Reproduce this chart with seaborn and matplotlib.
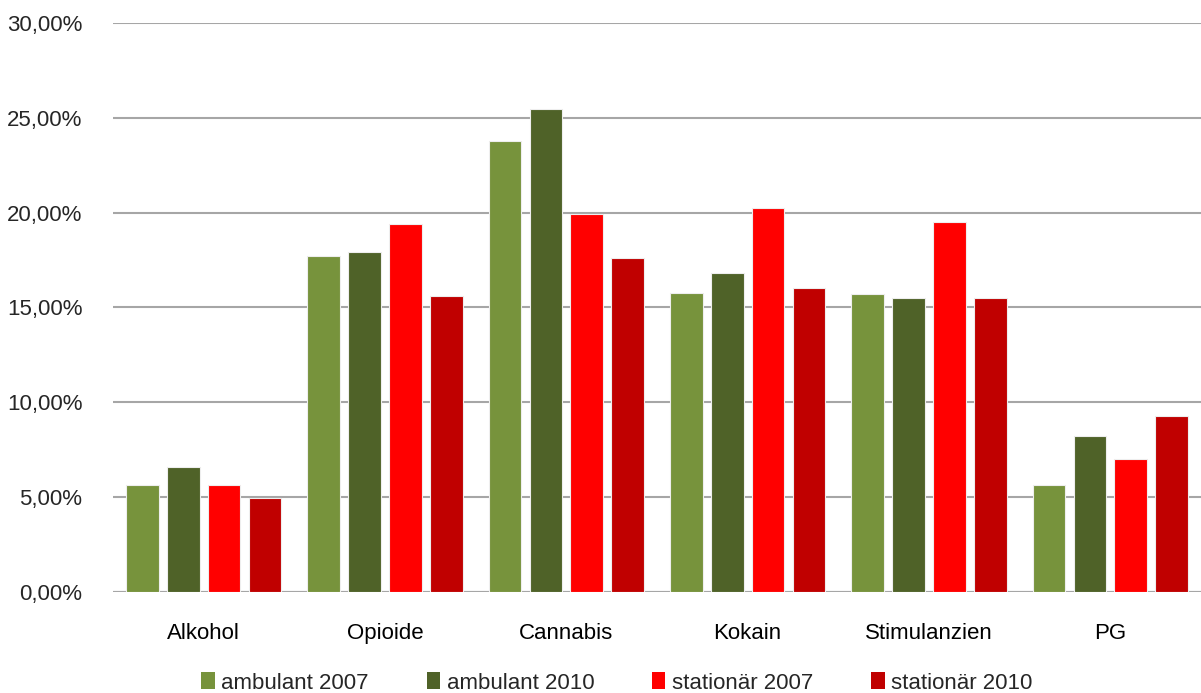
import pandas as pd
import matplotlib.pyplot as plt
import seaborn as sns
from matplotlib.ticker import FuncFormatter, MultipleLocator
from matplotlib.patches import Patch

# === DATA ===
CATEGORIES = ['Alkohol', 'Opioide', 'Cannabis', 'Kokain', 'Stimulanzien', 'PG']
SERIES = ['ambulant 2007', 'ambulant 2010', 'stationär 2007', 'stationär 2010']
AMB_2007 = [5.62, 17.70, 23.77, 15.75, 15.73, 5.62]
AMB_2010 = [6.57, 17.91, 25.47, 16.82, 15.49, 8.25]
STAT_2007 = [5.62, 19.39, 19.94, 20.27, 19.51, 7.02]
STAT_2010 = [4.97, 15.59, 17.63, 16.01, 15.49, 9.28]
COLORS = ['#77933C', '#4F6228', '#FF0000', '#C00000']
# === END DATA ===

rows = []
for name, vals in zip(SERIES, [AMB_2007, AMB_2010, STAT_2007, STAT_2010]):
    for cat, v in zip(CATEGORIES, vals):
        rows.append({'Kategorie': cat, 'Gruppe': name, 'Anteil': v / 100})
df = pd.DataFrame(rows)

sns.set_style('white')
plt.rcParams['font.family'] = ['Liberation Sans Narrow', 'Liberation Sans', 'DejaVu Sans']

fig = plt.figure(figsize=(12.01, 6.93), dpi=100)
ax = fig.add_axes([113 / 1201, 1 - 592 / 693, 1 - 113 / 1201, (592 - 23) / 693])

sns.barplot(data=df, x='Kategorie', y='Anteil', hue='Gruppe', order=CATEGORIES,
            hue_order=SERIES, palette=COLORS, saturation=1, width=0.9, gap=0.2,
            edgecolor='#EEEEEE', linewidth=0.8, legend=False, ax=ax)

ax.set_ylim(0, 0.30)
ax.set_xlim(-0.5, len(CATEGORIES) - 0.5)
ax.yaxis.set_major_locator(MultipleLocator(0.05))
ax.yaxis.set_major_formatter(FuncFormatter(lambda v, p: f'{v * 100:.2f}%'.replace('.', ',')))
ax.grid(axis='y', color='#A6A6A6', linewidth=1.5)
ax.set_axisbelow(True)
for s in ['top', 'right', 'left', 'bottom']:
    ax.spines[s].set_visible(False)
ax.axhline(0, color='#A6A6A6', linewidth=1.5, zorder=0)
ax.set_xlabel('')
ax.set_ylabel('')
ax.tick_params(axis='y', length=0, pad=22, labelsize=16, labelcolor='#262626')
ax.tick_params(axis='x', length=0, pad=22, labelsize=16, labelcolor='#000000')

handles = [Patch(facecolor=c, edgecolor='none') for c in COLORS]
fig.legend(handles, SERIES, loc='center', bbox_to_anchor=(617 / 1201, 1 - 683 / 693),
           ncol=4, frameon=False, fontsize=16, handlelength=0.6, handleheight=0.8,
           handletextpad=0.3, columnspacing=2.6)

plt.savefig('out.png', dpi=100)
plt.close()
